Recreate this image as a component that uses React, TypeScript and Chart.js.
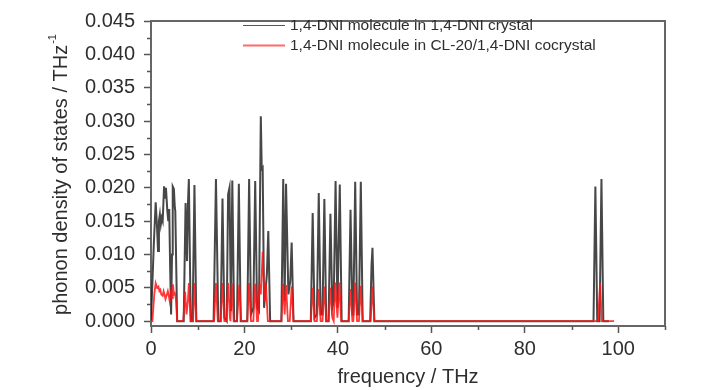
import React, { useEffect, useRef } from 'react';
import { Chart, registerables } from 'chart.js';

Chart.register(...registerables);

// 1,4-DNI molecule in 1,4-DNI crystal
const crystalFreq = [
  0, 0.2, 0.6, 1.0, 1.3, 1.5, 1.7, 1.9, 2.1, 2.3, 2.5, 2.8, 3.0, 3.2, 3.5, 3.7, 3.9, 4.1, 4.3, 4.5, 4.65, 4.9, 5.1, 5.2, 5.6,
  7.0, 7.4, 7.7, 7.9, 8.1, 8.5, 8.9, 9.3, 9.7,
  13.4, 13.9, 14.4, 14.9, 15.3, 15.7, 16.2, 16.5, 16.8, 17.1, 17.4, 17.8, 18.4, 18.8, 19.2,
  20.6, 21.0, 21.4, 21.9, 22.3, 22.7, 23.1, 23.5, 23.7, 23.9, 24.2, 24.8, 25.1, 25.5,
  27.9, 28.3, 28.6, 28.9, 29.4, 29.8, 30.1, 30.5,
  34.2, 34.6, 35.0, 35.5, 35.9, 36.3, 36.7, 37.1, 37.5, 38.0, 38.4, 38.8, 39.1, 39.5, 39.9, 40.4, 40.8,
  42.3, 42.7, 43.1, 43.3, 43.7, 44.1, 44.5, 44.9, 45.3, 46.9, 47.2, 47.4, 47.8,
  94.7, 95.1, 95.5, 96.0, 96.4, 96.8, 98.0,
];
const crystalDos = [
  0, 0, 0.0115, 0.0178, 0.014, 0.0105, 0.015, 0.016, 0.0145, 0.0155, 0.015, 0.0202, 0.0185, 0.02, 0.0165, 0.015, 0.0168, 0.008, 0.001, 0.01, 0.0202, 0.0198, 0.017, 0.0165, 0,
  0, 0.0177, 0.009, 0.0175, 0.0213, 0, 0, 0.0204, 0,
  0, 0.0213, 0, 0, 0.0184, 0.0005, 0, 0.019, 0.02, 0.0015, 0.0211, 0, 0, 0.0206, 0,
  0, 0.0213, 0.001, 0.002, 0.021, 0.002, 0.0015, 0.0307, 0.0228, 0.023, 0.002, 0.007, 0.0135, 0,
  0, 0.0213, 0.003, 0.0206, 0.004, 0.006, 0.0118, 0,
  0, 0.0162, 0.0005, 0.001, 0.0192, 0.001, 0.001, 0.0183, 0, 0, 0.0161, 0.002, 0.003, 0.021, 0.002, 0.0205, 0,
  0, 0.0167, 0.001, 0.001, 0.0209, 0.001, 0.001, 0.0209, 0, 0, 0.0085, 0.011, 0,
  0, 0.0202, 0, 0, 0.0213, 0, 0,
];

// 1,4-DNI molecule in CL-20/1,4-DNI cocrystal
const cocrystalFreq = [
  0, 0.3, 0.7, 1.0, 1.3, 1.6, 1.8, 2.0, 2.2, 2.5, 2.7, 2.9, 3.1, 3.4, 3.6, 3.8, 4.0, 4.3, 4.5, 4.7, 4.9, 5.1, 5.3, 5.6,
  6.9, 7.3, 7.6, 7.9, 8.1, 8.5, 9.0, 9.3, 9.7,
  13.5, 13.9, 14.3, 14.9, 15.3, 15.7, 16.1, 16.5, 16.9, 17.0, 17.3, 17.7, 18.4, 18.9, 19.3,
  20.6, 21.0, 21.4, 21.9, 22.3, 22.7, 22.9, 23.2, 23.5, 23.9, 24.3, 24.6, 25.0,
  27.9, 28.3, 28.6, 28.9, 29.3, 29.7, 30.1, 30.5,
  34.2, 34.6, 35.0, 35.5, 35.9, 36.3, 36.7, 37.1, 37.5, 38.0, 38.4, 38.8, 39.1, 39.4, 39.9, 40.3, 40.7,
  42.3, 42.7, 43.1, 43.3, 43.7, 44.1, 44.5, 44.9, 45.3, 47.0, 47.4, 47.8,
  95.7, 96.1, 96.5, 99.1,
];
const cocrystalDos = [
  0, 0, 0.004, 0.0057, 0.005, 0.0052, 0.0045, 0.0047, 0.004, 0.0038, 0.0045, 0.004, 0.0033, 0.004, 0.0045, 0.0038, 0.003, 0.0045, 0.0035, 0.0055, 0.004, 0.0042, 0.0035, 0,
  0, 0.0044, 0.001, 0.003, 0.0057, 0, 0, 0.0057, 0,
  0, 0.0057, 0, 0, 0.0057, 0, 0, 0.0057, 0.0005, 0, 0.0057, 0, 0, 0.0055, 0,
  0, 0.0057, 0, 0, 0.0056, 0, 0, 0.0056, 0.004, 0.0104, 0.003, 0.0056, 0,
  0, 0.0056, 0.001, 0.0054, 0, 0, 0.0052, 0,
  0, 0.005, 0, 0, 0.0048, 0, 0, 0.0052, 0, 0, 0.005, 0.0005, 0, 0.0058, 0.0005, 0.0058, 0,
  0, 0.0048, 0, 0, 0.0058, 0, 0, 0.0053, 0, 0, 0.0052, 0,
  0, 0.0057, 0, 0,
];

const seriesLabels = [
  '1,4-DNI molecule in 1,4-DNI crystal',
  '1,4-DNI molecule in CL-20/1,4-DNI cocrystal',
];
const xTickValues = [0, 20, 40, 60, 80, 100];
const xMinorTickValues = [10, 30, 50, 70, 90, 110];
const yTickValues = [0, 0.005, 0.01, 0.015, 0.02, 0.025, 0.03, 0.035, 0.04, 0.045];
const yMinorTickValues = [0.0025, 0.0075, 0.0125, 0.0175, 0.0225, 0.0275, 0.0325, 0.0375, 0.0425];
const xTitle = 'frequency / THz';
const yTitle = 'phonon density of states / THz';
const yTitleSup = '-1';

const FONT = '"Liberation Sans", Arial, sans-serif';
const TEXT = '#2e2e2e';
const AXIS = '#666666';
const BLACK = 'rgba(25,25,25,0.8)';
const RED = 'rgba(255,20,20,0.85)';

const decorPlugin = {
  id: 'decor',
  afterDraw(chart: any) {
    const { ctx, chartArea } = chart;
    const { left, right, top, bottom } = chartArea;
    const xs = chart.scales.x;
    const ys = chart.scales.y;
    ctx.save();
    // frame top & right
    ctx.strokeStyle = AXIS;
    ctx.lineWidth = 2;
    ctx.beginPath();
    ctx.moveTo(left - 1, top);
    ctx.lineTo(right, top);
    ctx.lineTo(right, bottom + 1);
    ctx.stroke();
    // minor ticks
    ctx.strokeStyle = '#555';
    ctx.lineWidth = 1.5;
    ctx.beginPath();
    xMinorTickValues.forEach((v) => {
      const px = Math.round(xs.getPixelForValue(v)) + 0.5;
      ctx.moveTo(px, bottom);
      ctx.lineTo(px, bottom + 4);
    });
    yMinorTickValues.forEach((v) => {
      const py = Math.round(ys.getPixelForValue(v)) + 0.5;
      ctx.moveTo(left, py);
      ctx.lineTo(left - 4, py);
    });
    ctx.stroke();
    // legend
    const lx0 = 243;
    const lx1 = 285;
    const rows = [25, 45];
    const colors = ['#555', 'rgba(255,90,90,0.9)'];
    const widths = [1, 2];
    ctx.font = '15.5px ' + FONT;
    ctx.textBaseline = 'middle';
    ctx.textAlign = 'left';
    seriesLabels.forEach((label, i) => {
      ctx.strokeStyle = colors[i];
      ctx.lineWidth = widths[i];
      ctx.beginPath();
      ctx.moveTo(lx0, rows[i] + 0.5);
      ctx.lineTo(lx1, rows[i] + 0.5);
      ctx.stroke();
      ctx.fillStyle = TEXT;
      ctx.fillText(label, 290, rows[i] + 1);
    });
    // y title with superscript
    ctx.translate(60, 175);
    ctx.rotate(-Math.PI / 2);
    ctx.font = '20px ' + FONT;
    const w1 = ctx.measureText(yTitle).width;
    ctx.font = '11px ' + FONT;
    const w2 = ctx.measureText(yTitleSup).width;
    const start = -(w1 + w2) / 2;
    ctx.fillStyle = TEXT;
    ctx.textBaseline = 'alphabetic';
    ctx.font = '20px ' + FONT;
    ctx.fillText(yTitle, start, 7);
    ctx.font = '11px ' + FONT;
    ctx.fillText(yTitleSup, start + w1 + 1, -4);
    ctx.restore();
  },
};

export default function App() {
  const ref = useRef<HTMLCanvasElement>(null);
  useEffect(() => {
    if (!ref.current) return;
    const chart = new Chart(ref.current, {
      type: 'line',
      data: {
        datasets: [
          {
            label: seriesLabels[0],
            data: crystalFreq.map((f, i) => ({ x: f, y: crystalDos[i] })),
            borderColor: BLACK,
            borderWidth: 2,
            pointRadius: 0,
            tension: 0,
            fill: false,
            order: 2,
          },
          {
            label: seriesLabels[1],
            data: cocrystalFreq.map((f, i) => ({ x: f, y: cocrystalDos[i] })),
            borderColor: RED,
            borderWidth: 1.8,
            pointRadius: 0,
            tension: 0,
            fill: false,
            order: 1,
          },
        ],
      },
      options: {
        responsive: false,
        animation: false,
        devicePixelRatio: 1,
        layout: { padding: { top: 14, right: 63, left: 0, bottom: 0 } },
        plugins: { legend: { display: false }, tooltip: { enabled: false } },
        scales: {
          x: {
            type: 'linear',
            position: 'bottom',
            min: 0,
            max: 110,
            afterBuildTicks: (s: any) => {
              s.ticks = xTickValues.map((v) => ({ value: v }));
            },
            afterFit: (s: any) => {
              s.height = 64;
            },
            ticks: {
              autoSkip: false,
              maxRotation: 0,
              padding: 4,
              color: TEXT,
              font: { family: FONT, size: 20 },
              callback: (v: any) => String(v),
            },
            grid: {
              display: true,
              drawOnChartArea: false,
              drawTicks: true,
              tickLength: 7,
              tickColor: '#555',
              tickWidth: 1.5,
            },
            border: { display: true, color: AXIS, width: 2 },
            title: {
              display: true,
              text: xTitle,
              color: TEXT,
              font: { family: FONT, size: 20 },
              padding: { top: 0, bottom: 1 },
            },
          },
          y: {
            type: 'linear',
            min: -0.00073,
            max: 0.045,
            afterBuildTicks: (s: any) => {
              s.ticks = yTickValues.map((v) => ({ value: v }));
            },
            afterFit: (s: any) => {
              s.width = 151;
            },
            ticks: {
              autoSkip: false,
              padding: 9,
              color: TEXT,
              font: { family: FONT, size: 20 },
              callback: (v: any) => Number(v).toFixed(3),
            },
            grid: {
              display: true,
              drawOnChartArea: false,
              drawTicks: true,
              tickLength: 7,
              tickColor: '#555',
              tickWidth: 1.5,
            },
            border: { display: true, color: AXIS, width: 2 },
          },
        },
      },
      plugins: [decorPlugin],
    } as any);
    return () => chart.destroy();
  }, []);
  return (
    <div style={{ position: 'fixed', left: 0, top: 0, width: 728, height: 390, background: '#fff' }}>
      <canvas ref={ref} width={728} height={390} style={{ display: 'block', width: 728, height: 390 }} />
    </div>
  );
}
